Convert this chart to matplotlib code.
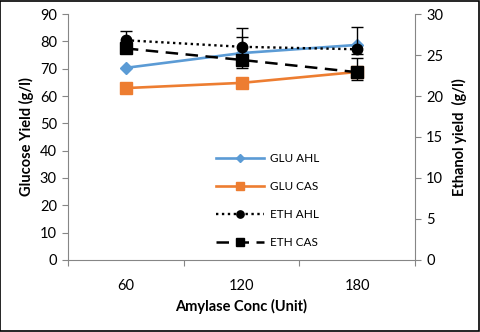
import matplotlib.pyplot as plt
import numpy as np

plt.rcParams['font.family'] = ['Lato', 'DejaVu Sans']

conc = ['60', '120', '180']
glu_ahl = [70.3, 75.7, 78.7]
glu_cas = [62.9, 64.8, 68.8]
eth_ahl = [26.8, 26.0, 25.7]
eth_ahl_lo = [1.0, 1.2, 0.6]
eth_ahl_hi = [1.1, 2.3, 2.7]
eth_cas = [25.8, 24.4, 22.9]
eth_cas_lo = [0.6, 1.0, 0.9]
eth_cas_hi = [0.6, 2.8, 1.7]

blue = '#5B9BD5'
orange = '#ED7D31'
grey = '#868686'

fig = plt.figure(figsize=(4.8, 3.32), dpi=100)
fig.patches.append(plt.Rectangle((0.001, 0.002), 0.997, 0.996, transform=fig.transFigure,
                                 fill=False, edgecolor='black', linewidth=1.2))
ax = fig.add_axes([0.1417, 0.2169, 0.7229, 0.7409])
ax2 = ax.twinx()

x = np.arange(len(conc))

ax.plot(x, glu_ahl, color=blue, lw=1.9, marker='D', ms=6, label='GLU AHL', zorder=3)
ax.plot(x, glu_cas, color=orange, lw=1.9, marker='s', ms=8, label='GLU CAS', zorder=3)

e1 = ax2.errorbar(x, eth_ahl, yerr=[eth_ahl_lo, eth_ahl_hi], color='black', lw=1.7, ls=(0, (1, 1.5)),
                  marker='o', ms=7.5, capsize=4.3, elinewidth=1.0, capthick=1.0, label='ETH AHL')
e2 = ax2.errorbar(x, eth_cas, yerr=[eth_cas_lo, eth_cas_hi], color='black', lw=1.8, ls=(0, (5, 3)),
                  marker='s', ms=9, capsize=4.3, elinewidth=1.0, capthick=1.0, label='ETH CAS')

ax.set_xlim(-0.5, 2.5)
ax.set_ylim(0, 90)
ax2.set_ylim(0, 30)
ax.set_yticks(np.arange(0, 91, 10))
ax2.set_yticks(np.arange(0, 31, 5))
ax.set_xticks([-0.5, 0.5, 1.5, 2.5])
ax.set_xticklabels([])
ax.set_xticks(x, minor=True)
ax.set_xticklabels(conc, minor=True)
ax.tick_params(axis='x', which='minor', length=0, pad=14, labelsize=10.5)
ax.tick_params(axis='x', which='major', length=4, color=grey, direction='out')
ax.tick_params(axis='y', length=4, color=grey, labelsize=10.5, pad=4)
ax2.tick_params(axis='y', length=4, color=grey, labelsize=10.5, pad=4)

for a in (ax, ax2):
    a.spines['top'].set_visible(False)
    for s in ('left', 'right', 'bottom'):
        a.spines[s].set_color(grey)
ax.spines['right'].set_visible(False)
ax2.spines['left'].set_visible(False)
ax2.spines['bottom'].set_visible(False)

ax.set_xlabel('Amylase Conc (Unit)', fontsize=10.5, fontweight='bold', labelpad=4)
ax.set_ylabel('Glucose Yield (g/l)', fontsize=10.5, fontweight='bold', labelpad=4)
ax2.set_ylabel('Ethanol yield  (g/l)', fontsize=10.5, fontweight='bold', labelpad=6)

h1, l1 = ax.get_legend_handles_labels()
handles = h1 + [e1[0], e2[0]]
labels = l1 + ['ETH AHL', 'ETH CAS']
leg = ax2.legend(handles, labels, loc='upper left', bbox_to_anchor=(0.395, 0.478), frameon=False,
                 fontsize=8.5, handlelength=4.1, labelspacing=1.45, markerscale=0.7, handletextpad=0.5)

fig.savefig('out.png', dpi=100)
